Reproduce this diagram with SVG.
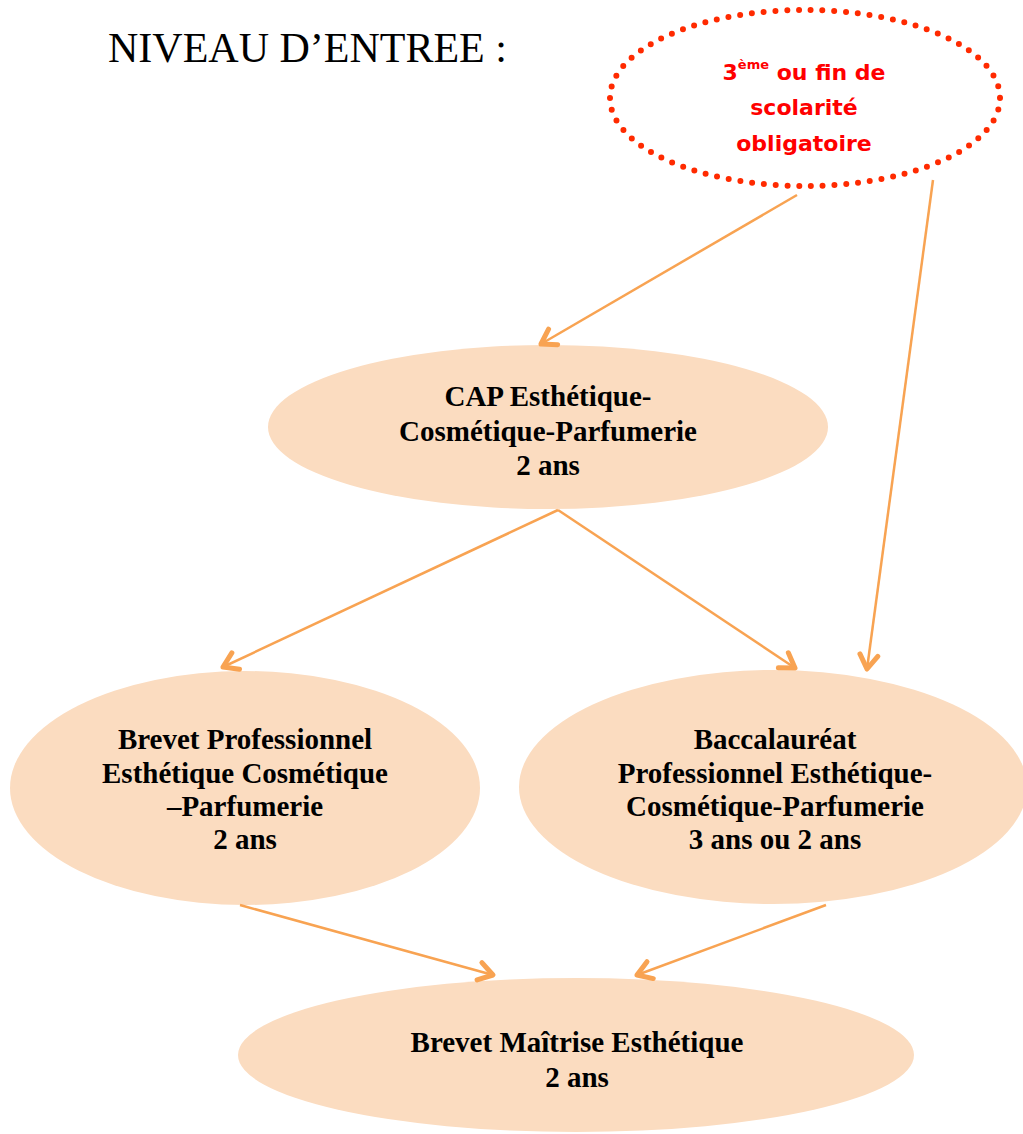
<svg xmlns="http://www.w3.org/2000/svg" width="1023" height="1134" viewBox="0 0 1023 1134">
<style>
.node{fill:#FBDCC0;}
.lbl{font-family:"Liberation Serif",serif;font-weight:bold;font-size:29px;fill:#000;text-anchor:middle;}
.red{font-family:"Comic Sans MS","DejaVu Sans",sans-serif;font-weight:bold;font-size:22px;fill:#FF0000;text-anchor:middle;}
.conn{stroke:#F8A352;stroke-width:2.5;fill:none;marker-end:url(#ah);}
</style>
<defs>
<marker id="ah" markerWidth="24" markerHeight="24" refX="19" refY="12" orient="auto" markerUnits="userSpaceOnUse" viewBox="0 0 24 24">
<path d="M5,3 L19,12 L5,21" fill="none" stroke="#F8A352" stroke-width="5" stroke-linecap="round" stroke-linejoin="round"/>
</marker>
<clipPath id="clipRed"><rect x="600" y="0" width="423" height="156"/></clipPath>
</defs>
<rect width="1023" height="1134" fill="#fff"/>
<text x="108" y="62" font-family="Liberation Serif, serif" font-size="42">NIVEAU D’ENTREE :</text>

<g id="start">
<ellipse cx="805" cy="98" rx="195" ry="88" fill="none" stroke="#FF2A00" stroke-width="6" stroke-dasharray="0 11.8" stroke-linecap="round"/>
<g clip-path="url(#clipRed)">
<text class="red" x="804" y="80">3<tspan font-size="13" dy="-11">ème</tspan><tspan dy="11"> ou fin de</tspan></text>
<text class="red" x="804" y="115">scolarité</text>
<text class="red" x="804" y="151">obligatoire</text>
</g>
</g>

<g id="cap">
<ellipse class="node" cx="548" cy="427" rx="280" ry="82"/>
<text class="lbl" x="548" y="406">CAP Esthétique-</text>
<text class="lbl" x="548" y="441">Cosmétique-Parfumerie</text>
<text class="lbl" x="548" y="475">2 ans</text>
</g>

<g id="bp">
<ellipse class="node" cx="245" cy="788" rx="235" ry="117"/>
<text class="lbl" x="245" y="749">Brevet Professionnel</text>
<text class="lbl" x="245" y="783">Esthétique Cosmétique</text>
<text class="lbl" x="245" y="816">–Parfumerie</text>
<text class="lbl" x="245" y="849">2 ans</text>
</g>

<g id="bac">
<ellipse class="node" cx="773" cy="787" rx="254" ry="117"/>
<text class="lbl" x="775" y="749">Baccalauréat</text>
<text class="lbl" x="775" y="783">Professionnel Esthétique-</text>
<text class="lbl" x="775" y="816">Cosmétique-Parfumerie</text>
<text class="lbl" x="775" y="849">3 ans ou 2 ans</text>
</g>

<g id="bm">
<ellipse class="node" cx="576" cy="1055" rx="338" ry="77"/>
<text class="lbl" x="577" y="1052">Brevet Maîtrise Esthétique</text>
<text class="lbl" x="577" y="1087">2 ans</text>
</g>

<g id="connectors">
<line class="conn" x1="797" y1="195" x2="541" y2="344"/>
<line class="conn" x1="933" y1="180" x2="867" y2="669"/>
<line class="conn" x1="558" y1="510" x2="223" y2="667"/>
<line class="conn" x1="558" y1="510" x2="795" y2="668"/>
<line class="conn" x1="240" y1="905" x2="493" y2="975"/>
<line class="conn" x1="826" y1="905" x2="637" y2="975"/>
</g>
</svg>
